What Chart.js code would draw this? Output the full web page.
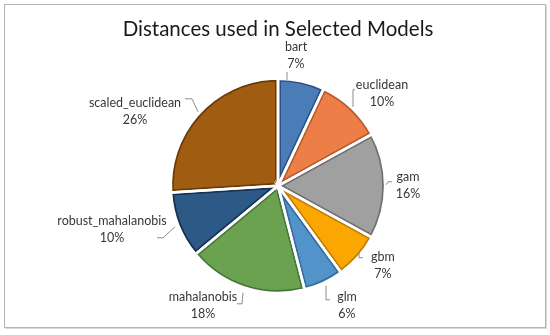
<!DOCTYPE html>
<html>
<head>
<meta charset="utf-8">
<script src="https://cdn.jsdelivr.net/npm/chart.js@4"></script>
<style>
  html, body { margin: 0; padding: 0; background: #fff; }
  #wrap { position: relative; width: 550px; height: 335px; }
  #frame { position: absolute; left: 4px; top: 4px; width: 540px; height: 322px;
           border: 1px solid #b4b4b4; box-shadow: 1px 1px 0 #d8d8d8; pointer-events: none; }
  canvas { position: absolute; left: 0; top: 0; }
</style>
</head>
<body>
<div id="wrap">
  <canvas id="c" width="550" height="335"></canvas>
  <div id="frame"></div>
</div>
<script>
const titleText = 'Distances used in Selected Models';
const categories = ['bart', 'euclidean', 'gam', 'gbm', 'glm', 'mahalanobis', 'robust_mahalanobis', 'scaled_euclidean'];
const shares = [7, 10, 16, 7, 6, 18, 10, 26];
const fillColors = ['#4A7CB8', '#EE7E47', '#A0A0A0', '#FCA602', '#5293CA', '#6BA24F', '#2D5987', '#A05C10'];
const edgeColors = ['#2B5286', '#B85A2A', '#707070', '#C07E00', '#356D9C', '#46763A', '#16304F', '#6A3A06'];

// label placement (text centre offsets) and leader lines, in pixel terms relative to pie centre
const labelPos = [
  {dx: 18, dy: -130, line: [[9, -114], [9, -106]]},
  {dx: 104, dy: -92, line: [[77, -96], [75, -96], [75, -79]]},
  {dx: 130, dy: 0, line: [[114, -4], [110, -4], [108, -1]]},
  {dx: 105, dy: 80, line: [[81, 66], [81, 72], [85, 72]]},
  {dx: 69, dy: 120, line: [[48, 100], [48, 114], [52, 114]]},
  {dx: -75, dy: 120, line: [[-41, 118], [-36, 118], [-35, 107]]},
  {dx: -166, dy: 44, line: [[-121, 52], [-115, 52], [-103, 41]]},
  {dx: -143, dy: -74, line: [[-93, -87], [-86, -87], [-80, -74]]}
];

const pieStyle = {
  id: 'pieStyle',
  afterDatasetsDraw(chart) {
    const ctx = chart.ctx;
    const meta = chart.getDatasetMeta(0);
    meta.data.forEach((arc, i) => {
      const p = arc.getProps(['x', 'y', 'startAngle', 'endAngle', 'outerRadius']);
      const path = () => {
        ctx.beginPath();
        ctx.moveTo(p.x, p.y);
        ctx.arc(p.x, p.y, p.outerRadius, p.startAngle, p.endAngle);
        ctx.closePath();
      };
      ctx.save();
      path();
      ctx.clip();
      ctx.strokeStyle = edgeColors[i];
      ctx.lineWidth = 6;
      ctx.lineJoin = 'round';
      path();
      ctx.stroke();
      ctx.restore();
    });
    meta.data.forEach((arc) => {
      const p = arc.getProps(['x', 'y', 'startAngle', 'endAngle', 'outerRadius']);
      ctx.save();
      ctx.beginPath();
      ctx.moveTo(p.x, p.y);
      ctx.arc(p.x, p.y, p.outerRadius, p.startAngle, p.endAngle);
      ctx.closePath();
      ctx.strokeStyle = '#ffffff';
      ctx.lineWidth = 2.6;
      ctx.lineJoin = 'miter';
      ctx.stroke();
      ctx.restore();
    });
    // labels
    const cx = meta.data[0].x, cy = meta.data[0].y;
    const total = shares.reduce((a, b) => a + b, 0);
    ctx.save();
    ctx.font = '12.5px Lato, "Open Sans", sans-serif';
    ctx.fillStyle = '#383838';
    ctx.textAlign = 'center';
    ctx.textBaseline = 'middle';
    categories.forEach((name, i) => {
      const lp = labelPos[i];
      const pct = Math.round(shares[i] / total * 100) + '%';
      ctx.fillText(name, cx + lp.dx, cy + lp.dy - 8.5);
      ctx.fillText(pct, cx + lp.dx, cy + lp.dy + 8.5);
      ctx.beginPath();
      lp.line.forEach((pt, k) => {
        if (k === 0) ctx.moveTo(cx + pt[0], cy + pt[1]);
        else ctx.lineTo(cx + pt[0], cy + pt[1]);
      });
      ctx.strokeStyle = '#8c8c8c';
      ctx.lineWidth = 1;
      ctx.stroke();
    });
    ctx.restore();
  }
};

new Chart(document.getElementById('c'), {
  type: 'pie',
  data: {
    labels: categories,
    datasets: [{
      data: shares,
      backgroundColor: fillColors,
      borderWidth: 0
    }]
  },
  options: {
    responsive: false,
    animation: false,
    layout: { padding: { left: 6, right: 0, top: 0, bottom: 42 } },
    plugins: {
      legend: { display: false },
      tooltip: { enabled: false },
      title: {
        display: true,
        text: titleText,
        color: '#1a1a1a',
        font: { family: 'Lato, "Open Sans", sans-serif', size: 20.5, weight: 'normal', lineHeight: 1.2 },
        padding: { top: 17, bottom: 37 }
      }
    }
  },
  plugins: [pieStyle]
});
</script>
</body>
</html>
